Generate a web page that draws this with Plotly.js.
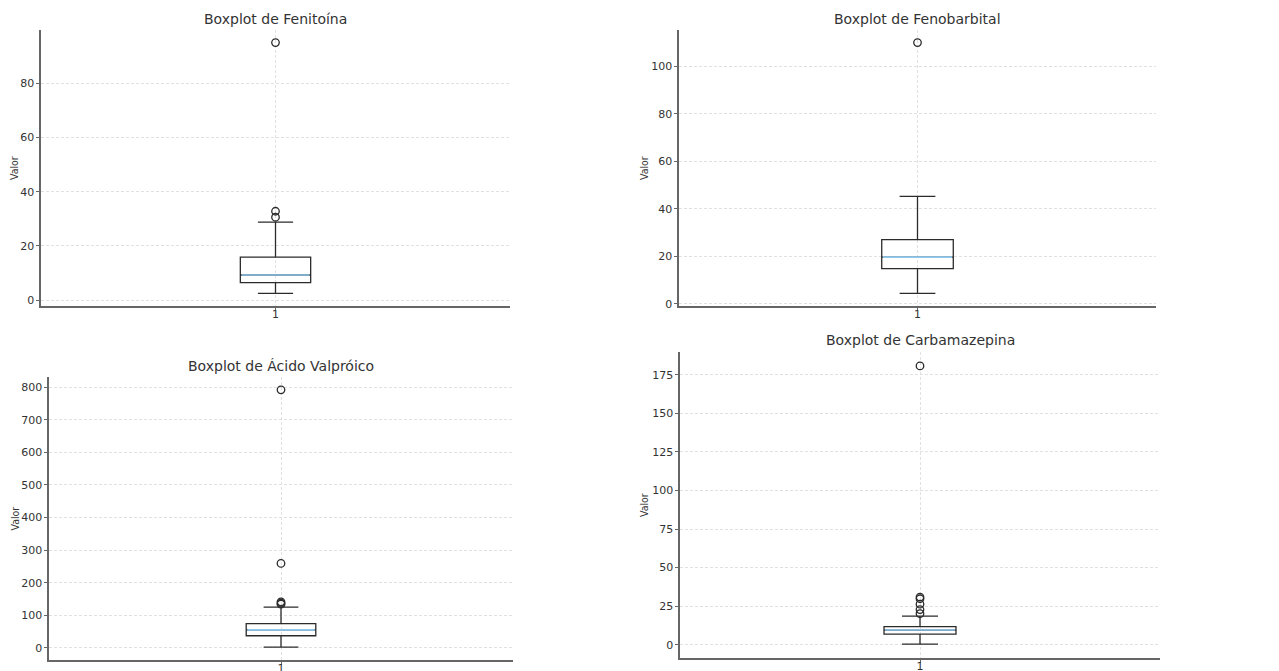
<!DOCTYPE html>
<html><head><meta charset="utf-8">
<script src="https://cdn.plot.ly/plotly-3.0.1.min.js"></script>
<style>html,body{margin:0;padding:0;background:#fff}#chart{width:1279px;height:671px}</style>
</head><body><div id="chart"></div>
<script>
// ---- data ----
const drugs = ["Fenitoína", "Fenobarbital", "Ácido Valpróico", "Carbamazepina"];
const lowerWhisker = [2.5, 4.3, 2, 0.4];
const q1Values = [6.5, 14.8, 37, 6.9];
const medianValues = [9.3, 19.6, 55, 9.5];
const q3Values = [15.9, 27, 74, 11.7];
const upperWhisker = [28.8, 45.2, 125, 18.6];
const outlierFenitoina = [30.6, 32.8, 95];
const outlierFenobarbital = [110];
const outlierValproico = [134, 137, 141, 259, 792];
const outlierCarbamazepina = [20.2, 22.8, 26.3, 29.8, 30.9, 180.8];
const outliers = [outlierFenitoina, outlierFenobarbital, outlierValproico, outlierCarbamazepina];
const boxPosition = [1];
const xTickLabels = ["1"];
const yTickSteps = [20, 20, 100, 25];

// ---- layout geometry (pixels) ----
const W = 1279, H = 671;
const panels = [
  {x0: 41, x1: 510, y0: 30, y1: 306, titleY: 19, labelX: 14},
  {x0: 679, x1: 1156, y0: 30, y1: 306, titleY: 19, labelX: 644},
  {x0: 49, x1: 513, y0: 377, y1: 660, titleY: 366, labelX: 14},
  {x0: 680, x1: 1160, y0: 352, y1: 658, titleY: 340, labelX: 644}
];

const textColor = '#333333';
const font = {family: 'DejaVu Sans, Verdana, sans-serif', size: 11, color: textColor};
const traces = [];
const layout = {
  width: W, height: H,
  margin: {l: 0, r: 0, t: 0, b: 0},
  paper_bgcolor: '#ffffff', plot_bgcolor: '#ffffff',
  showlegend: false,
  font: font,
  annotations: []
};

drugs.forEach((name, i) => {
  const p = panels[i];
  const sfx = i === 0 ? '' : String(i + 1);
  const xa = 'x' + sfx, ya = 'y' + sfx;
  const all = [lowerWhisker[i], upperWhisker[i]].concat(outliers[i]);
  const mn = Math.min.apply(null, all), mx = Math.max.apply(null, all);
  const pad = (mx - mn) * 0.05;

  traces.push({
    type: 'box', xaxis: xa, yaxis: ya,
    x: boxPosition,
    q1: [q1Values[i]], median: [medianValues[i]], q3: [q3Values[i]],
    lowerfence: [lowerWhisker[i]], upperfence: [upperWhisker[i]],
    width: 0.15, whiskerwidth: 0.5, boxpoints: false,
    line: {color: '#2b2b2b', width: 1.3},
    fillcolor: 'rgba(255,255,255,0)',
    hoverinfo: 'skip', name: name
  });
  traces.push({
    type: 'box', xaxis: xa, yaxis: ya,
    x: boxPosition,
    q1: [medianValues[i]], median: [medianValues[i]], q3: [medianValues[i]],
    lowerfence: [medianValues[i]], upperfence: [medianValues[i]],
    width: 0.145, whiskerwidth: 0, boxpoints: false,
    line: {color: '#8ec8ee', width: 1.6},
    fillcolor: 'rgba(255,255,255,0)',
    hoverinfo: 'skip', name: name + ' mediana'
  });
  traces.push({
    type: 'scatter', mode: 'markers', xaxis: xa, yaxis: ya,
    x: outliers[i].map(() => boxPosition[0]), y: outliers[i],
    marker: {symbol: 'circle-open', size: 7.5, color: '#2b2b2b', line: {width: 1.3, color: '#2b2b2b'}},
    hoverinfo: 'y', name: name + ' outliers'
  });

  const gridStyle = {showgrid: true, gridcolor: '#d9d9d9', griddash: '3px,2px', gridwidth: 0.8};
  layout['xaxis' + sfx] = Object.assign({
    domain: [p.x0 / W, p.x1 / W],
    anchor: ya,
    range: [0.5, 1.5],
    tickvals: boxPosition, ticktext: xTickLabels,
    zeroline: false,
    showline: true, linecolor: '#666666', linewidth: 1.6,
    ticks: 'outside', ticklen: 3, tickcolor: '#666666', tickwidth: 1,
    ticklabelstandoff: -6,
    tickfont: {family: font.family, size: 11, color: textColor},
    fixedrange: true
  }, gridStyle);
  layout['yaxis' + sfx] = Object.assign({
    domain: [1 - p.y1 / H, 1 - p.y0 / H],
    anchor: xa,
    range: [mn - pad, mx + pad],
    dtick: yTickSteps[i], tick0: 0,
    zeroline: false,
    showline: true, linecolor: '#666666', linewidth: 1.6,
    ticks: 'outside', ticklen: 3, tickcolor: '#666666', tickwidth: 1,
    tickfont: {family: font.family, size: 11, color: textColor},
    fixedrange: true
  }, gridStyle);
  layout.annotations.push({
    text: 'Boxplot de ' + name,
    xref: 'paper', yref: 'paper',
    x: ((p.x0 + p.x1) / 2) / W, y: 1 - p.titleY / H,
    xanchor: 'center', yanchor: 'middle', showarrow: false,
    font: {family: font.family, size: 14, color: textColor}
  });
  layout.annotations.push({
    text: 'Valor',
    xref: 'paper', yref: 'paper',
    x: p.labelX / W, y: 1 - ((p.y0 + p.y1) / 2) / H,
    xanchor: 'center', yanchor: 'middle', showarrow: false, textangle: -90,
    font: {family: 'DejaVu Sans Condensed, DejaVu Sans, sans-serif', size: 10.5, color: textColor}
  });
});

Plotly.newPlot('chart', traces, layout, {displayModeBar: false, staticPlot: true});
</script>
</body></html>
